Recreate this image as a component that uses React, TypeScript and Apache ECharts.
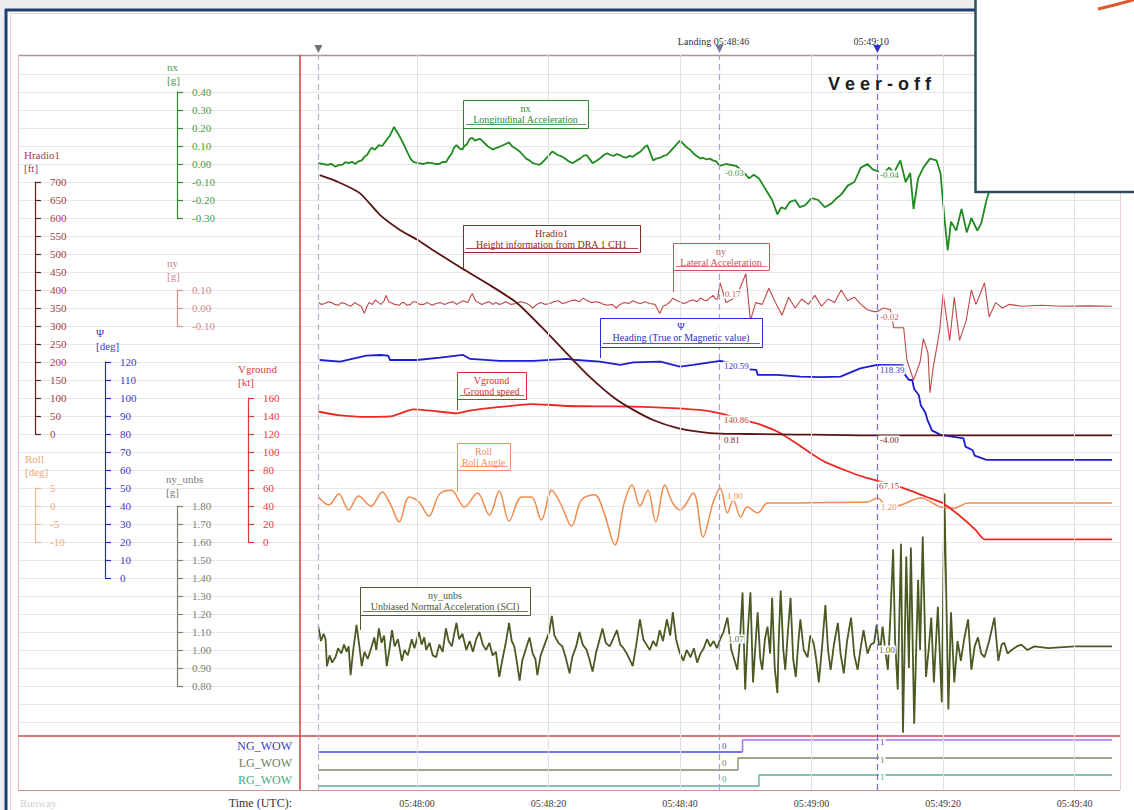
import React, { useEffect, useRef } from "react";
import * as echarts from "echarts";

const SERIF = "'Liberation Serif', 'DejaVu Serif', serif";

// time = seconds after 05:47:00
const timeTicks = [60, 80, 100, 120, 140, 160];
const cursors = [
  { t: 45, color: "#b4b4d0", tri: "#707070", label: "" },
  { t: 106, color: "#a0a0d8", tri: "#7878a0", label: "Landing 05:48:46" },
  { t: 130, color: "#6f6ff0", tri: "#3030c8", label: "05:49:10" },
];

const hradio1 = [
  [45.2, 719], [48, 700], [51.3, 669], [54.4, 608], [57.4, 567], [60, 540], [62.4, 511], [66.5, 464],
  [70.6, 419], [75.2, 364], [79.8, 281], [83.7, 206], [86.3, 158], [89.8, 103], [92.9, 67], [95.9, 39],
  [99.5, 17], [103, 6], [106.1, 0.81], [110, 0], [115, -1], [120, -2], [125, -3], [130, -4], [165.7, -4],
];

const vground = [
  [45, 145], [48, 141], [52.4, 139], [55.9, 139.5], [57.5, 143], [59.4, 147.4], [62, 146], [66, 143],
  [68, 146], [70.6, 148.5], [74, 151], [77.2, 153.3], [80, 152.5], [82.8, 151.1], [87, 150.8], [92.9, 150.4],
  [98, 149], [103, 146.7], [106.1, 143], [108, 139], [110, 135], [112, 131], [115, 122], [118, 108],
  [120, 98], [122, 89], [125, 80], [128, 72], [130, 68], [133, 62], [135, 57], [137.5, 50], [140, 43],
  [142.7, 28], [145, 13], [146.3, 3], [165.7, 3],
];

const psi = [
  [45.2, 121.1], [48.3, 120.2], [52.3, 123.5], [54.4, 123.9], [55.6, 123.5], [55.9, 121.1], [60, 121.1],
  [63.5, 122.4], [67, 123.9], [68.1, 121.7], [72.6, 120.6], [77.7, 120.6], [82.8, 121.7], [84.3, 121.1],
  [87.8, 120.2], [90.9, 118.4], [92.9, 119.8], [97, 120.2], [100, 117.4], [102, 118.4], [106.1, 120.6],
  [108, 119.2], [110, 116], [111.6, 115.6], [111.8, 112.8], [114.7, 112.8], [118.3, 111.9], [121.3, 111.6],
  [124.4, 111.9], [127.4, 116.5], [129.4, 118], [130, 118.4], [133.9, 118.2], [134.2, 113], [134.8, 110],
  [135.3, 110], [135.6, 105], [136.3, 101.7], [136.6, 96], [137.3, 92], [137.6, 88], [138.3, 82],
  [139.6, 79.5], [143.1, 77.6], [143.4, 73], [144.5, 71], [144.8, 68], [146.6, 65.6], [165.7, 65.6],
];

const nx = [
  [45, 0.005], [45.7, 0.0], [46.3, -0.005], [47, 0.0], [47.6, -0.015], [48.1, -0.005], [48.6, -0.005],
  [49.1, 0.01], [49.6, 0.005], [50.1, 0.012], [50.6, 0.0], [51.1, 0.015], [51.6, 0.02], [52, 0.04],
  [52.4, 0.05], [52.8, 0.075], [53.1, 0.09], [53.6, 0.08], [54.2, 0.105], [54.7, 0.1], [55.3, 0.13],
  [55.9, 0.16], [56.5, 0.205], [57.1, 0.17], [57.7, 0.13], [58.1, 0.1], [58.6, 0.06], [59, 0.03],
  [59.5, 0.01], [60.2, 0.005], [61, 0.0], [61.6, 0.008], [62.3, 0.005], [62.8, 0.0], [63.4, 0.0],
  [63.9, 0.012], [64.4, 0.01], [64.9, 0.04], [65.3, 0.06], [65.6, 0.09], [66, 0.105], [66.5, 0.085],
  [66.9, 0.08], [67.2, 0.1], [67.6, 0.11], [68, 0.14], [68.4, 0.145], [68.8, 0.13], [69.2, 0.135],
  [69.6, 0.14], [69.9, 0.13], [70.3, 0.115], [70.7, 0.1], [71.1, 0.09], [71.5, 0.08], [72.1, 0.09],
  [72.8, 0.1], [73.4, 0.11], [74, 0.12], [74.4, 0.1], [74.8, 0.09], [75.2, 0.08], [75.6, 0.07],
  [76.1, 0.05], [76.6, 0.03], [77.1, 0.02], [77.6, 0.005], [78.1, 0.0], [78.6, -0.005], [79.1, 0.01],
  [79.6, 0.03], [80.1, 0.05], [80.6, 0.07], [81, 0.06], [81.4, 0.05], [81.8, 0.045], [82.1, 0.04],
  [82.5, 0.03], [82.9, 0.02], [83.3, 0.01], [83.7, 0.005], [84.3, 0.02], [84.8, 0.03], [85.3, 0.045],
  [85.8, 0.05], [86.2, 0.03], [86.7, 0.005], [87.2, 0.015], [87.8, 0.03], [88.4, 0.05], [88.9, 0.06],
  [89.4, 0.05], [89.9, 0.045], [90.4, 0.055], [90.8, 0.05], [91.3, 0.04], [91.8, 0.035], [92.3, 0.045],
  [92.8, 0.04], [93.4, 0.055], [94, 0.07], [94.5, 0.09], [95, 0.105], [95.5, 0.06], [95.9, 0.02],
  [96.4, 0.03], [97, 0.035], [97.5, 0.045], [98, 0.05], [98.5, 0.07], [99, 0.09], [99.5, 0.11],
  [100, 0.13], [100.4, 0.115], [100.8, 0.1], [101.1, 0.09], [101.5, 0.08], [101.9, 0.065],
  [102.3, 0.05], [102.7, 0.04], [103.1, 0.03], [103.5, 0.035], [104, 0.025], [104.5, 0.03],
  [105, 0.02], [105.5, 0.015], [106, -0.01],
  [107, 0.0], [108.5, -0.01], [109.5, -0.04], [110.5, -0.08], [111.2, -0.06], [112, -0.08], [113, -0.14],
  [114, -0.2], [114.8, -0.28], [115.4, -0.24], [116, -0.25], [116.7, -0.21], [117.5, -0.2], [118.2, -0.24],
  [119, -0.23], [120, -0.19], [121, -0.2], [122, -0.24], [123, -0.22], [123.8, -0.19], [124.5, -0.17],
  [125.5, -0.12], [126.5, -0.1], [127.5, -0.02], [128.5, 0.0], [129.3, -0.03], [130, -0.04], [131, -0.05],
  [131.8, -0.02], [132.5, -0.05], [133.5, 0.02], [134.3, -0.1], [135, -0.05], [135.5, -0.25], [136.2, -0.08],
  [137, -0.02], [138, 0.03], [139, 0.02], [139.6, -0.05], [140.2, -0.3], [140.7, -0.48], [141.2, -0.32],
  [142, -0.37], [142.8, -0.25], [143.6, -0.38], [144.3, -0.3], [145.2, -0.37], [145.8, -0.33],
  [146.6, -0.2], [147.3, -0.12],
];

const ny = [
  [45, 0.03], [45.5, 0.02], [46, 0.025], [46.5, 0.035], [47, 0.03], [47.5, 0.02], [48, 0.015], [48.5, 0.03],
  [49, 0.025], [49.5, 0.015], [50, 0.01], [50.5, 0.03], [51, 0.02], [51.5, 0.01], [52, -0.03], [52.4, 0.01],
  [52.7, 0.03], [53.2, 0.02], [53.7, 0.045], [54.1, 0.03], [54.5, 0.02], [55, 0.04], [55.3, 0.07],
  [55.7, 0.035], [56, 0.03], [56.6, 0.02], [57.3, 0.015], [57.7, 0.03], [58, 0.03], [58.5, 0.015],
  [59, 0.02], [59.4, 0.035], [59.8, 0.035], [60.4, 0.02], [61, 0.02], [61.6, 0.03], [62.3, 0.015],
  [62.9, 0.025], [63.5, 0.03], [64.2, 0.02], [64.9, 0.03], [65.5, 0.035], [66, 0.02], [66.5, 0.03],
  [67, 0.04], [67.7, 0.03], [68.4, 0.08], [68.9, 0.04], [69.3, 0.03], [69.9, 0.02], [70.5, 0.03],
  [71, 0.035], [71.5, 0.02], [72, 0.03], [72.5, 0.02], [73, 0.025], [73.5, 0.035], [74.3, 0.02],
  [75.1, 0.025], [75.7, 0.035], [76.3, 0.03], [77, 0.02], [77.6, 0.0], [78.2, 0.02], [78.8, 0.03],
  [79.5, 0.02], [80.2, 0.025], [80.8, 0.035], [81.5, 0.04], [82.1, 0.025], [82.7, 0.03], [83.4, 0.04],
  [84, 0.045], [84.7, 0.035], [85.3, 0.055], [85.9, 0.04], [86.5, 0.03], [87.2, 0.035], [87.8, 0.03],
  [88.4, 0.02], [89, 0.015], [89.7, 0.02], [90.3, 0.0], [90.9, 0.02], [91.5, 0.03], [92.2, 0.025],
  [92.8, 0.04], [93.4, 0.03], [94, 0.025], [94.7, 0.035], [95.4, 0.025], [96.2, 0.02], [96.9, -0.03],
  [97.4, 0.01], [98, 0.02], [98.5, 0.035], [98.9, 0.055], [99.5, 0.04], [100, 0.035], [100.5, 0.025],
  [101, 0.03], [101.5, 0.04], [102, 0.045], [102.6, 0.035], [103.1, 0.055], [103.6, 0.045], [104, 0.04],
  [104.5, 0.055], [105, 0.07], [105.4, 0.05], [105.7, 0.05], [106.1, 0.14],
  [107, 0.03], [108, 0.05], [109, 0.1], [110, 0.19], [110.7, -0.07], [111.5, 0.03], [112.5, 0.02],
  [113.5, 0.11], [114.5, 0.03], [115.5, -0.04], [116.5, 0.06], [117.5, 0.0], [118.5, 0.05], [119.5, 0.02],
  [120.5, 0.07], [121.5, 0.01], [122.5, 0.05], [123.5, 0.03], [124.5, 0.1], [125.5, 0.04], [126.5, 0.06],
  [127.5, 0.02], [128.5, -0.01], [129.5, -0.02], [130, -0.02], [131, 0.0], [132, -0.01], [132.5, -0.11],
  [134, -0.11], [134.5, -0.29], [135.5, -0.4], [136.5, -0.3], [137, -0.17], [137.7, -0.25], [138, -0.47],
  [138.5, -0.33], [139.5, -0.12], [140, 0.08], [141, -0.18], [141.7, 0.06], [142.5, -0.18], [143.5, -0.07],
  [144.3, 0.1], [145, 0.02], [146.3, 0.14], [147, -0.05], [148, 0.03], [149, 0.0], [150, 0.02], [152, 0.01],
  [155, 0.015], [158, 0.01], [162, 0.012], [165.7, 0.01],
];

const roll = [
  [45, 2.5], [46.6, 0.3], [48.1, 3.3], [49.6, -1.1], [51.1, 2.8], [53, 0], [54.7, 3.9], [56, 0.3],
  [57.3, -4.4], [58.8, 2.5], [60.3, 1.1], [61.8, -2.8], [63.4, 3.3], [65.2, 4.4], [67.2, -0.3], [69.2, 3.6],
  [71, -2.5], [72.5, 4.2], [74, -4.2], [75.9, 2.5], [77.4, 2.5], [78.9, -3.9], [80.5, 4.4], [82, 0],
  [83.5, -5.6], [85, 1.7], [87, 3.1], [88.4, -1.7], [90.1, -10.8], [91.5, 0.8], [92.7, 5.8], [93.9, 0],
  [95.1, 4.4], [96.3, -4.4], [97.7, 5.8], [98.8, 1.1], [100, -1.1], [102, 3.6], [103.5, -8.6], [105, 0.8],
  [106.1, 5], [107.2, -1.9], [108.1, 1.7], [109.2, -3.1], [110.2, -0.3], [111.8, -1.9], [113.3, 0.8],
  [114.8, 0.8], [120, 0.9], [125, 1.0], [128.5, 1.1], [130, 2.2], [131.6, -0.3], [133.6, 0.3], [136.6, 2.2],
  [139.7, -0.3], [141.7, -0.6], [143.8, 0.8], [165.7, 0.8],
];

const nyUnbs = [
  [45, 1.13], [45.4, 1.05], [45.8, 1.09], [46.1, 1.06], [46.3, 0.91], [46.7, 0.97], [47.1, 0.93], [47.6, 0.96],
  [48, 1.01], [48.5, 0.98], [48.9, 1.03], [49.3, 0.99], [49.6, 1.02], [49.9, 0.86], [50.3, 1.0], [50.8, 1.14],
  [51.2, 1.03], [51.6, 0.91], [52, 0.99], [52.5, 0.95], [53.1, 1.02], [53.5, 1.07], [53.8, 1.0], [54.2, 1.12],
  [54.6, 1.04], [55, 1.08], [55.4, 0.91], [55.8, 1.0], [56.2, 1.11], [56.6, 1.02], [57.1, 1.06], [57.7, 0.94],
  [58.1, 1.0], [58.6, 0.97], [59.2, 1.06], [59.6, 1.01], [60.3, 1.1], [60.7, 1.03], [61.1, 1.07], [61.4, 1.0],
  [61.9, 1.04], [62.4, 0.97], [62.9, 0.96], [63.4, 1.03], [63.9, 0.99], [64.4, 1.12], [64.8, 1.05],
  [65.3, 1.02], [65.6, 1.08], [66, 1.15], [66.4, 1.06], [66.9, 1.09], [67.5, 1.0], [68, 1.05], [68.5, 0.99],
  [69, 1.06], [69.5, 1.1], [70, 1.03], [70.5, 1.0], [71, 1.04], [71.5, 0.97], [72, 0.99], [72.5, 0.85],
  [73, 0.95], [73.5, 1.04], [74, 1.15], [74.4, 1.05], [74.8, 1.02], [75.2, 0.93], [75.6, 0.83], [76, 0.94],
  [76.5, 1.0], [77.1, 1.07], [77.6, 0.98], [78, 0.95], [78.3, 0.86], [78.8, 0.97], [79.3, 1.02], [79.8, 1.07],
  [80.1, 1.1], [80.5, 1.19], [80.9, 1.08], [81.5, 1.04], [82.1, 1.02], [82.6, 0.96], [83.2, 0.87], [83.6, 0.96],
  [84.2, 1.02], [84.7, 1.1], [85.2, 1.03], [85.8, 1.0], [86.2, 0.95], [86.7, 0.88], [87.2, 0.98], [87.7, 1.05],
  [88.2, 1.12], [88.7, 1.04], [89.3, 1.02], [89.8, 1.06], [90.4, 1.11], [90.9, 1.03], [91.4, 1.01],
  [91.9, 0.98], [92.3, 0.95], [92.8, 0.91], [93.3, 1.02], [93.9, 1.17], [94.4, 1.06], [94.9, 1.03],
  [95.4, 1.0], [95.9, 1.05], [96.4, 1.02], [96.9, 1.11], [97.4, 1.05], [98, 1.17], [98.5, 1.08], [98.9, 1.21],
  [99.4, 1.06], [99.9, 0.99], [100.5, 0.94], [101, 1.0], [101.6, 0.96], [102.1, 1.01], [102.6, 0.93],
  [103.1, 0.98], [103.6, 1.01], [104.1, 1.06], [104.6, 1.02], [105.1, 1.05], [105.6, 1.01], [106.1, 1.06],
  [106.6, 1.1], [107.2, 1.18], [107.8, 1.0], [108.3, 0.94], [108.7, 0.89], [109.1, 1.05], [109.5, 1.32],
  [109.9, 0.78], [110.3, 1.1], [110.7, 1.32], [111.1, 0.82], [111.5, 1.05], [111.8, 1.21], [112.2, 0.95],
  [112.5, 0.89], [112.9, 1.06], [113.3, 1.13], [113.7, 0.98], [114, 1.29], [114.4, 0.9], [114.8, 0.76],
  [115, 1.05], [115.3, 1.33], [115.7, 1.0], [116, 0.89], [116.4, 1.1], [116.8, 1.29], [117.2, 0.95],
  [117.6, 0.85], [118, 1.05], [118.3, 1.17], [118.8, 1.0], [119.4, 0.96], [119.8, 1.08], [120.3, 1.04],
  [120.7, 0.95], [121.1, 0.82], [121.6, 1.02], [122.1, 1.25], [122.5, 1.0], [122.9, 0.89], [123.4, 1.03],
  [124, 1.15], [124.4, 0.98], [124.9, 0.87], [125.4, 1.05], [126, 1.18], [126.5, 0.97], [127, 0.89],
  [127.5, 1.02], [127.9, 1.11], [128.5, 0.98], [129, 1.03], [129.5, 1.04], [129.9, 1.14], [130.4, 0.98],
  [130.8, 1.13], [131.2, 1.0], [131.6, 0.89], [132, 1.2], [132.4, 1.56], [132.7, 1.05], [133.1, 0.78],
  [133.6, 1.59], [133.9, 0.54], [134.4, 1.52], [134.8, 0.9], [135.1, 1.57], [135.6, 0.59], [136.2, 1.39],
  [136.5, 1.0], [136.9, 1.63], [137.4, 0.85], [137.8, 1.0], [138.2, 1.18], [138.6, 0.82], [139.2, 1.24],
  [139.8, 0.71], [140.2, 1.87], [140.8, 0.67], [141.2, 1.21], [141.7, 0.82], [142.2, 1.05], [142.7, 0.94],
  [143.2, 1.06], [143.8, 1.17], [144.3, 0.89], [144.8, 1.02], [145.3, 1.07], [145.8, 0.98], [146.3, 0.96],
  [147, 1.05], [147.8, 1.18], [148.4, 0.94], [148.9, 1.03], [149.3, 1.04], [149.8, 0.98], [150.4, 1.0],
  [151.2, 1.02], [151.9, 1.03], [152.8, 1.0], [153.9, 1.02], [156, 1.01], [160, 1.02], [165.7, 1.02],
];

// WOW: [time, state]; the first two points are before the switch, the rest after it
const ngWow = [[45, 0], [109.5, 0], [109.5, 1], [165.7, 1]];
const lgWow = [[45, 0], [108.8, 0], [108.8, 1], [165.7, 1]];
const rgWow = [[45, 0], [112, 0], [112, 1], [165.7, 1]];

const cursorValueLabels = [
  { text: "-0.03", x: 724, y: 173, c: "#3a9a3a" },
  { text: "0.17", x: 724, y: 294, c: "#c86060" },
  { text: "120.59", x: 723, y: 366, c: "#3a3ac8" },
  { text: "140.86", x: 723, y: 420, c: "#e03a3a" },
  { text: "0.81", x: 723, y: 440, c: "#7a2a2a" },
  { text: "1.00", x: 726, y: 496, c: "#f09060" },
  { text: "1.07", x: 727, y: 639, c: "#5a6a3a" },
  { text: "0", x: 721, y: 746, c: "#4040d0" },
  { text: "0", x: 721, y: 763, c: "#6a7a5a" },
  { text: "0", x: 721, y: 779, c: "#40b080" },
  { text: "-0.04", x: 879, y: 175, c: "#3a9a3a" },
  { text: "-0.02", x: 879, y: 317, c: "#c86060" },
  { text: "118.39", x: 879, y: 370, c: "#3a3ac8" },
  { text: "-4.00", x: 879, y: 440, c: "#7a2a2a" },
  { text: "67.15", x: 878, y: 486, c: "#e03a3a" },
  { text: "1.20", x: 880, y: 507, c: "#f09060" },
  { text: "1.00", x: 878, y: 650, c: "#5a6a3a" },
  { text: "1", x: 879, y: 742, c: "#4040d0" },
  { text: "1", x: 879, y: 760, c: "#6a7a5a" },
  { text: "1", x: 879, y: 777, c: "#40b080" },
];

const annotations = [
  { l1: "nx", l2: "Longitudinal Acceleration", x: 463, y: 100, w: 125, h: 28, py: 147, c: "#2f8a2f" },
  { l1: "Hradio1", l2: "Height information from DRA 1 CH1", x: 463, y: 225, w: 177, h: 27, py: 268, c: "#8a2a2a" },
  { l1: "ny", l2: "Lateral Acceleration", x: 673, y: 243, w: 96, h: 27, py: 292, c: "#c05858" },
  { l1: "Ψ", l2: "Heading (True or Magnetic value)", x: 600, y: 318, w: 162, h: 29, py: 358, c: "#2c2cd0" },
  { l1: "Vground", l2: "Ground speed", x: 457, y: 372, w: 69, h: 27, py: 410, c: "#e02a2a" },
  { l1: "Roll", l2: "Roll Angle", x: 457, y: 443, w: 53, h: 27, py: 492, c: "#f09060" },
  { l1: "ny_unbs", l2: "Unbiased Normal Acceleration (SCI)", x: 360, y: 587, w: 170, h: 28, py: 630, c: "#4e5a36" },
];

const GL = 285.5;
const GRIGHT = 14;
const XMIN = 40;
const XMAX = 166.9;
const W = 1134;
const tx = (t: number) => GL + ((t - XMIN) / (XMAX - XMIN)) * (W - GRIGHT - GL);

const signals = [
  { name: "ny_unbs", unit: "[g]", data: nyUnbs, top: 506, bottom: 686, axisX: 177, min: 0.8, max: 1.8, interval: 0.1, dec: 2, line: "#4a5a22", width: 1.8, smooth: 0, axis: "#7a8070", label: "#7a8070", nameX: 166, nameY: 479 },
  { name: "Roll", unit: "[deg]", data: roll, top: 488, bottom: 542, axisX: 35, min: -10, max: 5, interval: 5, dec: 0, line: "#f28a4c", width: 1.5, smooth: 0.35, axis: "#f0b890", label: "#f0a878", nameX: 25, nameY: 459 },
  { name: "ny", unit: "[g]", data: ny, top: 290, bottom: 326, axisX: 177, min: -0.1, max: 0.1, interval: 0.1, dec: 2, line: "#c04848", width: 1.1, smooth: 0, axis: "#d89090", label: "#d08888", nameX: 167, nameY: 263 },
  { name: "nx", unit: "[g]", data: nx, top: 92, bottom: 218, axisX: 177, min: -0.3, max: 0.4, interval: 0.1, dec: 2, line: "#1f8a1f", width: 1.8, smooth: 0, axis: "#2e8b2e", label: "#4a9a4a", nameX: 167, nameY: 67 },
  { name: "Ψ", unit: "[deg]", data: psi, top: 362, bottom: 578, axisX: 105, min: 0, max: 120, interval: 10, dec: 0, line: "#1c1cd0", width: 1.8, smooth: 0, axis: "#2a2ac0", label: "#3a3ac8", nameX: 96, nameY: 333 },
  { name: "Vground", unit: "[kt]", data: vground, top: 398, bottom: 542, axisX: 248, min: 0, max: 160, interval: 20, dec: 0, line: "#ea2a22", width: 1.8, smooth: 0.2, axis: "#d83a3a", label: "#e04040", nameX: 238, nameY: 369 },
  { name: "Hradio1", unit: "[ft]", data: hradio1, top: 182, bottom: 434, axisX: 35, min: 0, max: 700, interval: 50, dec: 0, line: "#5a1414", width: 1.8, smooth: 0.2, axis: "#5a2020", label: "#9a4444", nameX: 24, nameY: 155 },
];

const wows = [
  { name: "NG_WOW", data: ngWow, top: 740, bottom: 752, line: "#4444e0", after: "#a277ea", width: 1.6, c: "#3a3ad0", ly: 746 },
  { name: "LG_WOW", data: lgWow, top: 758, bottom: 770, line: "#7a8a6a", after: "#7a8a6a", width: 1.3, c: "#6a7a5a", ly: 763 },
  { name: "RG_WOW", data: rgWow, top: 775, bottom: 786, line: "#50b090", after: "#50b090", width: 1.3, c: "#40b080", ly: 780 },
];

const fmtTime = (v: number) => {
  if (v < 60 || Math.abs(v - Math.round(v / 20) * 20) > 0.01) return "";
  const m = 47 + Math.floor(v / 60);
  const s = Math.round(v % 60);
  return `05:${m}:${String(s).padStart(2, "0")}`;
};

function txt(text: string, x: number, y: number, fill: string, size = 11, align = "left", extra: any = {}) {
  return {
    type: "text",
    silent: true,
    z: 10,
    x,
    y,
    style: { text, fill, font: `${size}px ${SERIF}`, align, verticalAlign: "middle", ...extra },
  };
}
function ln(x1: number, y1: number, x2: number, y2: number, stroke: string, lineWidth = 1, z = 3) {
  return { type: "line", silent: true, z, shape: { x1, y1, x2, y2 }, style: { stroke, lineWidth } };
}

function buildOption() {
  const grid: any[] = [];
  const xAxis: any[] = [];
  const yAxis: any[] = [];
  const series: any[] = [];
  const graphic: any[] = [];

  // 0: background horizontal grid lines
  grid.push({ left: 18, right: GRIGHT, top: 74, height: 648 });
  xAxis.push({ gridIndex: 0, type: "value", min: 0, max: 1, show: false });
  yAxis.push({
    gridIndex: 0, type: "value", min: 0, max: 36, interval: 1,
    axisLine: { show: false }, axisTick: { show: false }, axisLabel: { show: false },
    splitLine: { show: true, lineStyle: { color: "#e6e6e6", width: 1 } },
  });

  // 1: time grid (labels, vertical grid lines, cursors)
  grid.push({ left: GL, right: GRIGHT, top: 55, bottom: 20 });
  xAxis.push({
    gridIndex: 1, type: "value", min: XMIN, max: XMAX, interval: 20, position: "bottom",
    axisLine: { show: false }, axisTick: { show: false }, splitLine: { show: false },
    axisLabel: { show: true, margin: 8, color: "#3a3a3a", fontSize: 10, fontFamily: SERIF, formatter: fmtTime },
  });
  yAxis.push({ gridIndex: 1, type: "value", min: 0, max: 1, show: false });
  series.push({
    type: "line", xAxisIndex: 1, yAxisIndex: 1, data: [], silent: true, symbol: "none",
    markLine: {
      symbol: ["none", "none"], silent: true, label: { show: false },
      data: [
        ...timeTicks.map((t) => ({ xAxis: t, lineStyle: { color: "#e0e0e0", width: 1, type: "solid", opacity: 1 } })),
        ...cursors.map((c) => ({ xAxis: c.t, lineStyle: { color: c.color, width: 1.2, type: [6, 4], opacity: 1 } })),
      ],
    },
  });

  // signal grids
  signals.forEach((s, i) => {
    const gi = grid.length;
    grid.push({ left: GL, right: GRIGHT, top: s.top, height: s.bottom - s.top });
    xAxis.push({ gridIndex: gi, type: "value", min: XMIN, max: XMAX, show: false });
    yAxis.push({
      gridIndex: gi, type: "value", min: s.min, max: s.max, interval: s.interval,
      position: "left", offset: GL - s.axisX,
      axisLine: { show: true, onZero: false, lineStyle: { color: s.axis, width: 1.2 } },
      axisTick: { show: true, inside: true, length: 6, lineStyle: { color: s.axis, width: 1.2 } },
      axisLabel: {
        show: true, inside: true, margin: 15, color: s.label, fontSize: 11, fontFamily: SERIF,
        formatter: (v: number) => v.toFixed(s.dec),
      },
      splitLine: { show: false },
    });
    series.push({
      type: "line", name: s.name, xAxisIndex: gi, yAxisIndex: gi, data: s.data, symbol: "none",
      showSymbol: false, clip: false, silent: true, z: 2 + i * 0.1, smooth: s.smooth,
      lineStyle: { color: s.line, width: s.width },
    });
    graphic.push(txt(s.name, s.nameX, s.nameY, s.label, 11));
    graphic.push(txt(s.unit, s.nameX, s.nameY + 13, s.label, 11));
  });

  // WOW grids (one series before the switch, one from the switch on)
  wows.forEach((w) => {
    const gi = grid.length;
    grid.push({ left: GL, right: GRIGHT, top: w.top, height: w.bottom - w.top });
    xAxis.push({ gridIndex: gi, type: "value", min: XMIN, max: XMAX, show: false });
    yAxis.push({ gridIndex: gi, type: "value", min: 0, max: 1, show: false });
    series.push({
      type: "line", name: w.name, xAxisIndex: gi, yAxisIndex: gi, data: w.data.slice(0, 2), symbol: "none",
      clip: false, silent: true, lineStyle: { color: w.line, width: 1.3 },
    });
    series.push({
      type: "line", name: w.name + " on", xAxisIndex: gi, yAxisIndex: gi, data: w.data.slice(1), symbol: "none",
      clip: false, silent: true, lineStyle: { color: w.after, width: w.width },
    });
    graphic.push(txt(w.name, 292, w.ly, w.c, 12, "right"));
  });

  // page frame
  graphic.push({ type: "rect", silent: true, z: -1, shape: { x: 0, y: 0, width: W, height: 9 }, style: { fill: "#eeeeee" } });
  graphic.push({ type: "rect", silent: true, z: -1, shape: { x: 0, y: 0, width: 5, height: 810 }, style: { fill: "#eeeeee" } });
  graphic.push({ type: "rect", silent: true, z: -1, shape: { x: 10.5, y: 13.5, width: 1130, height: 800 }, style: { fill: "none", stroke: "#f2cccc", lineWidth: 1 } });
  graphic.push(ln(5, 10, W, 10, "#1f3f73", 3, 4));
  graphic.push(ln(6, 9, 6, 810, "#1f3f73", 3, 4));
  graphic.push(ln(18, 55.5, 1120, 55.5, "#a89494", 1.5));
  graphic.push(ln(18.5, 55, 18.5, 790, "#e2b8b8", 1));
  graphic.push(ln(1120.5, 55, 1120.5, 790, "#e8d0d0", 1));
  graphic.push(ln(300, 55, 300, 790, "#d04848", 1.6));
  graphic.push(ln(18, 736, 1120, 736, "#d04848", 1.4));
  graphic.push(ln(18, 790.5, 1120, 790.5, "#c89090", 1.2));

  // bottom row
  graphic.push(txt("Runway", 20, 803, "#cfcfcf", 11));
  graphic.push(txt("Time (UTC):", 292, 803, "#333333", 12, "right"));

  // cursors on top
  cursors.forEach((c) => {
    const x = tx(c.t);
    graphic.push({ type: "polygon", silent: true, z: 10, shape: { points: [[x - 4, 45], [x + 4, 45], [x, 53]] }, style: { fill: c.tri } });
    if (c.label) graphic.push(txt(c.label, x - 6, 41, "#333333", 10, "center"));
  });

  // annotation boxes
  annotations.forEach((a) => {
    graphic.push({ type: "rect", silent: true, z: 9, shape: { x: a.x + 0.5, y: a.y + 0.5, width: a.w, height: a.h }, style: { fill: "rgba(255,255,255,0.85)", stroke: a.c, lineWidth: 1 } });
    graphic.push(ln(a.x + 0.5, a.y + a.h, a.x + 0.5, a.py, a.c, 1, 9));
    graphic.push(txt(a.l1, a.x + a.w / 2, a.y + 8, a.c, 10, "center"));
    graphic.push(txt(a.l2, a.x + a.w / 2, a.y + 19, a.c, 10, "center"));
    graphic.push(ln(a.x + 3, a.y + a.h - 3.5, a.x + a.w - 2, a.y + a.h - 3.5, a.c, 0.8, 9));
  });

  // cursor value labels
  cursorValueLabels.forEach((l) => {
    graphic.push(txt(l.text, l.x, l.y, l.c, 9, "left", { backgroundColor: "#ffffff", padding: [0, 1] }));
  });

  // Veer-off
  graphic.push({
    type: "text", silent: true, z: 10, x: 828, y: 84,
    style: { text: "V e e r - o f f", fill: "#1e1e1e", font: "bold 18px 'Liberation Sans', 'DejaVu Sans', sans-serif", align: "left", verticalAlign: "middle" },
  });

  // overlay box top right
  graphic.push({ type: "rect", silent: true, z: 100, shape: { x: 975.5, y: -5, width: 170, height: 197 }, style: { fill: "#ffffff", stroke: "#2e4e5c", lineWidth: 2.5 } });
  graphic.push({ type: "bezierCurve", silent: true, z: 101, shape: { x1: 1098, y1: 9, cpx1: 1116, cpy1: 5, x2: 1136, y2: -1 }, style: { stroke: "#e0562e", lineWidth: 3, fill: "none" } });

  return {
    animation: false,
    backgroundColor: "#ffffff",
    grid,
    xAxis,
    yAxis,
    series,
    graphic,
  };
}

export default function App() {
  const ref = useRef<HTMLDivElement>(null);
  useEffect(() => {
    if (!ref.current) return;
    const chart = echarts.init(ref.current, null, { renderer: "svg" });
    chart.setOption(buildOption() as any);
    return () => chart.dispose();
  }, []);
  return (
    <div
      ref={ref}
      style={{ position: "fixed", left: 0, top: 0, width: 1134, height: 810, background: "#ffffff" }}
    />
  );
}
